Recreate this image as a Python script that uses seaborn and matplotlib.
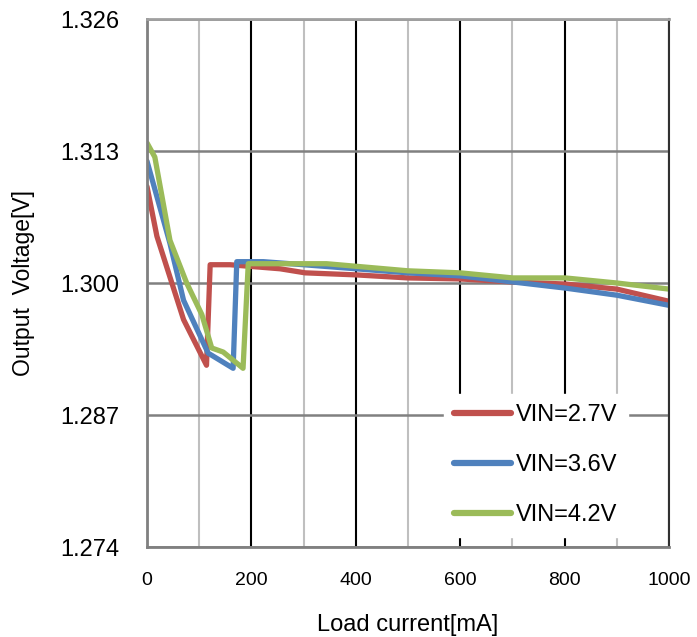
import numpy as np
import pandas as pd
import matplotlib
matplotlib.use("Agg")
import matplotlib.pyplot as plt
import seaborn as sns
from matplotlib.ticker import FixedLocator

# Data
x_27 = [0, 19, 70, 114, 121, 159, 255, 303, 400, 500, 600, 701, 801, 900, 1000]
y_27 = [1.3095, 1.3046, 1.2964, 1.2919, 1.3018, 1.3018, 1.3014, 1.3010, 1.3008, 1.3005, 1.3004, 1.3001, 1.2999, 1.2994, 1.2982]

x_36 = [0, 44, 70, 117, 165, 172, 223, 300, 400, 500, 600, 701, 801, 900, 1000]
y_36 = [1.3120, 1.3039, 1.2983, 1.2931, 1.2916, 1.3021, 1.3021, 1.3018, 1.3014, 1.3010, 1.3007, 1.3001, 1.2995, 1.2988, 1.2978]

x_42 = [0, 15, 44, 76, 105, 124, 146, 184, 194, 255, 344, 500, 600, 701, 801, 900, 1000]
y_42 = [1.3138, 1.3124, 1.3042, 1.3000, 1.2969, 1.2936, 1.2932, 1.2916, 1.3019, 1.3019, 1.3019, 1.3012, 1.3010, 1.3005, 1.3005, 1.3000, 1.2994]

series_names = ["VIN=2.7V", "VIN=3.6V", "VIN=4.2V"]
colors = ["#C0504D", "#4F81BD", "#9BBB59"]

x_ticks = [0, 200, 400, 600, 800, 1000]
y_ticks = [1.274, 1.287, 1.300, 1.313, 1.326]
y_tick_labels = ["1.274", "1.287", "1.300", "1.313", "1.326"]

frames = []
for name, xs, ys in zip(series_names, [x_27, x_36, x_42], [y_27, y_36, y_42]):
    frames.append(pd.DataFrame({"x": xs, "y": ys, "series": name}))
df = pd.concat(frames, ignore_index=True)

sns.set_style("white")
plt.rcParams['font.family'] = ['Liberation Sans', 'DejaVu Sans']
plt.rcParams['text.color'] = 'black'
plt.rcParams['axes.labelcolor'] = 'black'
plt.rcParams['xtick.color'] = 'black'
plt.rcParams['ytick.color'] = 'black'

fig = plt.figure(figsize=(6.97, 6.37), dpi=100)
ax = fig.add_axes([147/697, 1-547/637, (669-147)/697, (547-19)/637])

sns.lineplot(data=df, x="x", y="y", hue="series", palette=colors, sort=False,
             estimator=None, units="series", linewidth=3.8, ax=ax, legend=True)

ax.set_xlim(0, 1000)
ax.set_ylim(1.274, 1.326)
ax.xaxis.set_major_locator(FixedLocator(x_ticks))
ax.xaxis.set_minor_locator(FixedLocator([100, 300, 500, 700, 900]))
ax.yaxis.set_major_locator(FixedLocator(y_ticks))
ax.set_yticklabels(y_tick_labels)

ax.grid(True, which="major", axis="x", color="black", linewidth=1.5)
ax.grid(True, which="minor", axis="x", color="#BFBFBF", linewidth=1.5)
ax.grid(True, which="major", axis="y", color="#808080", linewidth=1.8)
ax.set_axisbelow(True)

ax.tick_params(axis="both", which="both", length=0, colors="black")
ax.tick_params(axis="x", labelsize=14, pad=18)
ax.tick_params(axis="y", labelsize=17, pad=20)

for side in ["left", "bottom", "top"]:
    ax.spines[side].set_color("#808080")
    ax.spines[side].set_linewidth(2.0)
ax.spines["top"].set_color("#A0A0A0")
ax.spines["right"].set_color("#303030")
ax.spines["right"].set_linewidth(1.5)

ax.set_xlabel("Load current[mA]", fontsize=17, labelpad=18)
ax.set_ylabel("Output  Voltage[V]", fontsize=16.5, labelpad=18)

leg = ax.legend(loc="center", bbox_to_anchor=(0.745, 0.155), frameon=True,
                fontsize=17, handlelength=2.4, labelspacing=1.18, handletextpad=0.2,
                borderpad=0.45, borderaxespad=0.0)
leg.get_frame().set_facecolor("white")
leg.get_frame().set_edgecolor("white")
leg.get_frame().set_alpha(1.0)
leg.get_frame().set_boxstyle("square", pad=0)
for line in leg.get_lines():
    line.set_linewidth(4.5)
    line.set_solid_capstyle("round")

fig.savefig("out.png", dpi=100)
